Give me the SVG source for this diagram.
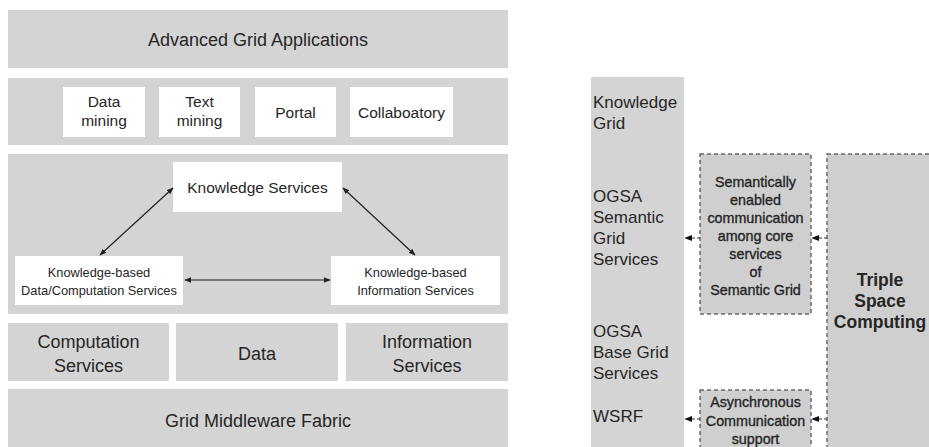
<svg xmlns="http://www.w3.org/2000/svg" width="929" height="447" viewBox="0 0 929 447">
<style>
.g{fill:#d4d4d4}
.w{fill:#ffffff}
.d{fill:#cfcfcf;stroke:#6a6a6a;stroke-width:1.5;stroke-dasharray:4,3}
text{font-family:"Liberation Sans",Arial,sans-serif;fill:#262626;text-anchor:middle}
.t18{font-size:18px}
.t15{font-size:15.5px}
.t13{font-size:12.8px}
.r{font-size:17px;text-anchor:start}
.b{font-size:14.3px;stroke:#262626;stroke-width:0.35}
.bb{font-size:17.5px;font-weight:bold}
.c{stroke:#222;stroke-width:1.2;fill:none}
.dc{stroke:#333;stroke-width:1.2;fill:none;stroke-dasharray:3,2}
</style>
<defs>
<marker id="ah" viewBox="0 0 10 10" refX="9" refY="5" markerWidth="7" markerHeight="7" orient="auto-start-reverse" markerUnits="userSpaceOnUse">
<path d="M0,1 L10,5 L0,9 z" fill="#222"/>
</marker>
<marker id="sh" viewBox="0 0 10 10" refX="9" refY="5" markerWidth="8" markerHeight="8" orient="auto" markerUnits="userSpaceOnUse">
<path d="M0,1 L10,5 L0,9 z" fill="#111"/>
</marker>
</defs>
<rect width="929" height="447" fill="#ffffff"/>

<g id="advanced-grid-applications">
<rect class="g" x="8" y="10" width="500" height="58"/>
<text class="t18" x="258" y="46">Advanced Grid Applications</text>
</g>

<g id="apps-row">
<rect class="g" x="8" y="78" width="500" height="67"/>
</g>
<g id="data-mining">
<rect class="w" x="63" y="87" width="82" height="50"/>
<text class="t15" x="104" y="107">Data</text>
<text class="t15" x="104" y="126">mining</text>
</g>
<g id="text-mining">
<rect class="w" x="159" y="87" width="81" height="50"/>
<text class="t15" x="199.5" y="107">Text</text>
<text class="t15" x="199.5" y="126">mining</text>
</g>
<g id="portal">
<rect class="w" x="255" y="87" width="81" height="50"/>
<text class="t15" x="295.5" y="118">Portal</text>
</g>
<g id="collaboratory">
<rect class="w" x="350" y="87" width="103" height="50"/>
<text class="t15" x="401.5" y="118">Collaboatory</text>
</g>

<g id="knowledge-layer">
<rect class="g" x="8" y="154" width="500" height="160"/>
</g>
<g id="knowledge-services">
<rect class="w" x="173" y="162" width="169" height="50"/>
<text class="t15" x="257.5" y="193">Knowledge Services</text>
</g>
<g id="kb-data-computation">
<rect class="w" x="15" y="256" width="168" height="49"/>
<text class="t13" x="99" y="277">Knowledge-based</text>
<text class="t13" x="99" y="295">Data/Computation Services</text>
</g>
<g id="kb-information">
<rect class="w" x="331" y="256" width="169" height="49"/>
<text class="t13" x="415.5" y="277">Knowledge-based</text>
<text class="t13" x="415.5" y="295">Information Services</text>
</g>

<g id="computation-services">
<rect class="g" x="8" y="323" width="161" height="58"/>
<text class="t18" x="88.5" y="348">Computation</text>
<text class="t18" x="88.5" y="372">Services</text>
</g>
<g id="data">
<rect class="g" x="176" y="323" width="162" height="58"/>
<text class="t18" x="257" y="360">Data</text>
</g>
<g id="information-services">
<rect class="g" x="346" y="323" width="162" height="58"/>
<text class="t18" x="427" y="348">Information</text>
<text class="t18" x="427" y="372">Services</text>
</g>
<g id="grid-middleware-fabric">
<rect class="g" x="8" y="389" width="500" height="58"/>
<text class="t18" x="258" y="427">Grid Middleware Fabric</text>
</g>

<g id="grid-column">
<rect class="g" x="591" y="77" width="93" height="370"/>
<text class="r" x="593" y="108">Knowledge</text>
<text class="r" x="593" y="129">Grid</text>
<text class="r" x="593" y="202">OGSA</text>
<text class="r" x="593" y="223">Semantic</text>
<text class="r" x="593" y="244">Grid</text>
<text class="r" x="593" y="265">Services</text>
<text class="r" x="593" y="337">OGSA</text>
<text class="r" x="593" y="358">Base Grid</text>
<text class="r" x="593" y="379">Services</text>
<text class="r" x="593" y="422">WSRF</text>
</g>

<g id="semantic-communication">
<rect class="d" x="700" y="154" width="111" height="160"/>
<text class="b" x="755.5" y="187">Semantically</text>
<text class="b" x="755.5" y="205">enabled</text>
<text class="b" x="755.5" y="223">communication</text>
<text class="b" x="755.5" y="241">among core</text>
<text class="b" x="755.5" y="259">services</text>
<text class="b" x="755.5" y="277">of</text>
<text class="b" x="755.5" y="295">Semantic Grid</text>
</g>

<g id="asynchronous-communication">
<rect class="d" x="700" y="390" width="111" height="62"/>
<text class="b" x="755.5" y="407">Asynchronous</text>
<text class="b" x="755.5" y="426">Communication</text>
<text class="b" x="755.5" y="444">support</text>
</g>

<g id="triple-space-computing">
<rect class="d" x="827" y="154" width="110" height="300"/>
<text class="bb" x="880" y="286">Triple</text>
<text class="bb" x="880" y="307">Space</text>
<text class="bb" x="880" y="328">Computing</text>
</g>

<g id="connectors">
<line class="c" x1="100" y1="255" x2="173" y2="188" marker-start="url(#ah)" marker-end="url(#ah)"/>
<line class="c" x1="343" y1="188" x2="415" y2="255" marker-start="url(#ah)" marker-end="url(#ah)"/>
<line class="c" x1="185" y1="280" x2="330" y2="280" marker-start="url(#ah)" marker-end="url(#ah)"/>
<line class="dc" x1="700" y1="238" x2="685" y2="238" marker-end="url(#sh)"/>
<line class="dc" x1="827" y1="238" x2="812" y2="238" marker-end="url(#sh)"/>
<line class="dc" x1="700" y1="419" x2="685" y2="419" marker-end="url(#sh)"/>
<line class="dc" x1="827" y1="419" x2="812" y2="419" marker-end="url(#sh)"/>
</g>
</svg>
